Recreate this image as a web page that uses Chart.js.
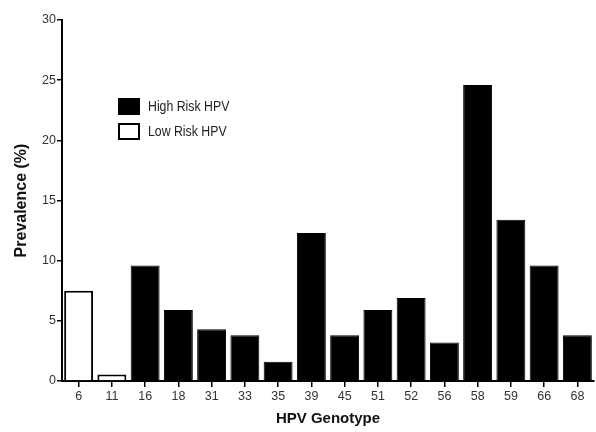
<!DOCTYPE html>
<html>
<head>
<meta charset="utf-8">
<script src="https://cdn.jsdelivr.net/npm/chart.js@4"></script>
<style>
  html, body { margin: 0; padding: 0; background: #fff; }
  #wrap { width: 596px; height: 432px; }
</style>
</head>
<body>
<div id="wrap"><canvas id="chart" width="596" height="432"></canvas></div>
<script>
// HPV genotypes on the x axis
const genotypes = ['6', '11', '16', '18', '31', '33', '35', '39', '45', '51', '52', '56', '58', '59', '66', '68'];
// prevalence (%) per genotype, null where the other group applies
const highRisk = [null, null, 9.6, 5.9, 4.3, 3.8, 1.6, 12.3, 3.8, 5.9, 6.9, 3.2, 24.6, 13.4, 9.6, 3.8];
const lowRisk = [7.5, 0.55, null, null, null, null, null, null, null, null, null, null, null, null, null, null];
const yTicks = [0, 5, 10, 15, 20, 25, 30];

const narrow = "'Liberation Sans Narrow', 'Arial Narrow', 'Liberation Sans', sans-serif";

// legend drawn inside the plot area, like the original
const boxLegend = {
    id: 'boxLegend',
    afterDraw(chart) {
        const ctx = chart.ctx;
        const area = chart.chartArea;
        const x = area.left + 57;
        let y = area.top + 79;
        ctx.save();
        ctx.font = '15px ' + narrow;
        ctx.textBaseline = 'middle';
        chart.data.datasets.forEach(ds => {
            ctx.fillStyle = ds.backgroundColor;
            ctx.fillRect(x, y, 20, 15);
            ctx.lineWidth = 2;
            ctx.strokeStyle = '#000';
            ctx.strokeRect(x, y, 20, 15);
            // squeeze the text a bit, the original uses a narrow face
            ctx.save();
            ctx.translate(x + 29, y + 8);
            ctx.scale(0.82, 1);
            ctx.fillStyle = '#222';
            ctx.fillText(ds.label, 0, 0);
            ctx.restore();
            y += 25;
        });
        ctx.restore();
    }
};

const ctx = document.getElementById('chart').getContext('2d');
new Chart(ctx, {
    type: 'bar',
    data: {
        labels: genotypes,
        datasets: [
            {
                label: 'High Risk HPV',
                data: highRisk,
                backgroundColor: '#000',
                borderColor: '#000',
                borderWidth: 1
            },
            {
                label: 'Low Risk HPV',
                data: lowRisk,
                backgroundColor: '#fff',
                borderColor: '#000',
                borderWidth: 2
            }
        ]
    },
    options: {
        responsive: false,
        animation: false,
        layout: { padding: { top: 20, right: 2, left: 0, bottom: 0 } },
        plugins: {
            legend: { display: false },
            tooltip: { enabled: false }
        },
        datasets: {
            bar: { grouped: false, barPercentage: 0.87, categoryPercentage: 1 }
        },
        scales: {
            x: {
                offset: true,
                grid: { offset: false, drawOnChartArea: false, drawTicks: true, tickLength: 6, color: '#000', lineWidth: 1.5 },
                border: { color: '#000', width: 2 },
                ticks: { color: '#333', font: { family: narrow, size: 12.5 }, padding: 2, maxRotation: 0 },
                title: {
                    display: true,
                    text: 'HPV Genotype',
                    color: '#111',
                    font: { family: narrow, size: 15, weight: 'bold' },
                    padding: { top: 0, bottom: 4 }
                },
                afterFit(scale) { scale.height = 51; }
            },
            y: {
                min: 0,
                max: 30,
                afterBuildTicks(scale) { scale.ticks = yTicks.map(v => ({ value: v })); },
                grid: { drawOnChartArea: false, drawTicks: true, tickLength: 5, color: '#000', lineWidth: 1.5 },
                border: { color: '#000', width: 2 },
                ticks: { color: '#333', font: { family: narrow, size: 12.5 }, padding: 1 },
                title: {
                    display: true,
                    text: 'Prevalence (%)',
                    color: '#111',
                    font: { family: "'Liberation Sans', Arial, sans-serif", size: 16, weight: 'bold' },
                    padding: { top: 12, bottom: 0 }
                },
                afterFit(scale) { scale.width = 62; }
            }
        }
    },
    plugins: [boxLegend]
});
</script>
</body>
</html>
